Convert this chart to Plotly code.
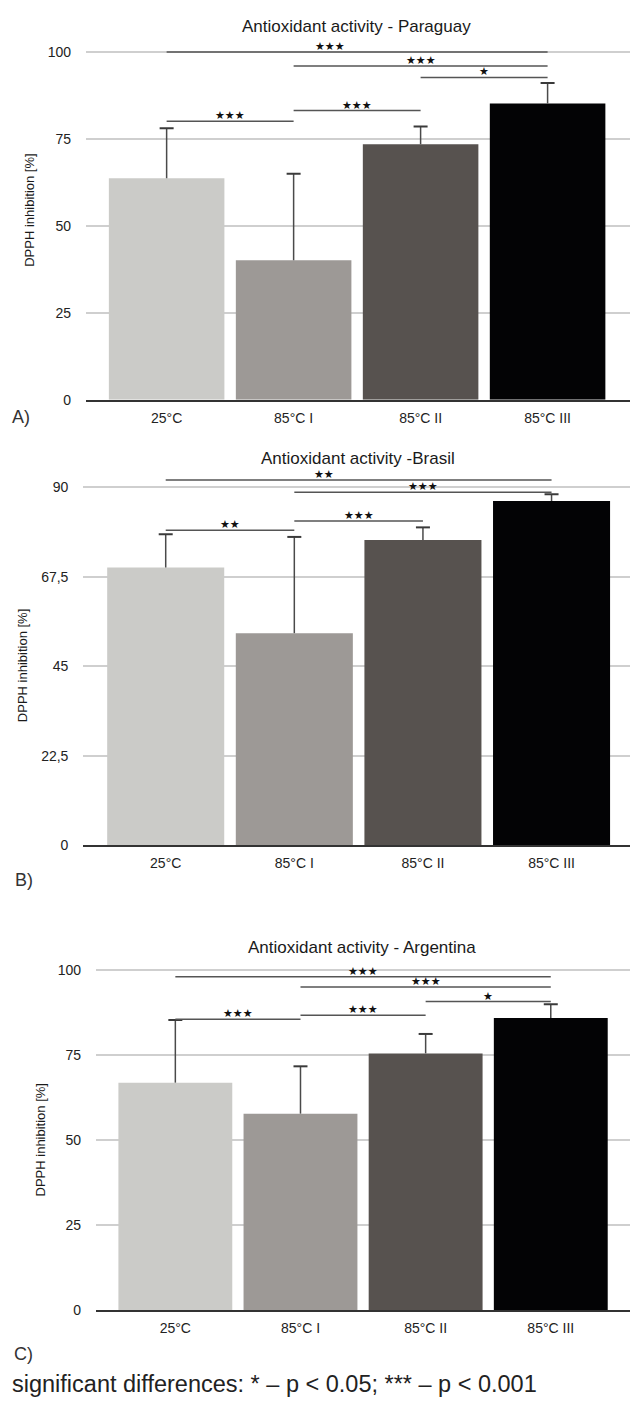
import plotly.graph_objects as go

# ---------------- data ----------------
categories = ["25°C", "85°C I", "85°C II", "85°C III"]

paraguay_mean = [63.6, 40.1, 73.4, 85.1]
paraguay_sd = [14.4, 24.8, 5.1, 5.9]
brasil_mean = [69.8, 53.3, 76.7, 86.5]
brasil_sd = [8.4, 24.2, 3.2, 1.7]
argentina_mean = [66.9, 57.8, 75.5, 85.9]
argentina_sd = [18.4, 13.9, 5.7, 4.0]

# significance brackets: (from bar, to bar, level, label)
paraguay_sig = [(0, 3, 99.9, "***"), (1, 3, 95.9, "***"), (2, 3, 92.6, "*"),
                (1, 2, 83.1, "***"), (0, 1, 80.0, "***")]
brasil_sig = [(0, 3, 91.8, "**"), (1, 3, 88.75, "***"), (1, 2, 81.5, "***"),
              (0, 1, 79.2, "**")]
argentina_sig = [(0, 3, 98.0, "***"), (1, 3, 95.0, "***"), (2, 3, 90.7, "*"),
                 (1, 2, 86.7, "***"), (0, 1, 85.5, "***")]

ticks_pct = [0, 25, 50, 75, 100]
ticks_pct_text = ["0", "25", "50", "75", "100"]
ticks_brasil = [0, 22.5, 45, 67.5, 90]
ticks_brasil_text = ["0", "22,5", "45", "67,5", "90"]

titles = ["Antioxidant activity - Paraguay", "Antioxidant activity -Brasil",
          "Antioxidant activity - Argentina"]
panel_labels = ["A)", "B)", "C)"]
y_title = "DPPH inhibition [%]"
footnote = "significant differences: * – p < 0.05; *** – p < 0.001"

# ---------------- styling / layout ----------------
W, H = 632, 1403
bar_colors = ["#cbcbc8", "#9d9996", "#57524f", "#030305"]
FONT = "Arial, Liberation Sans, Helvetica, sans-serif"

panels = [
    dict(mean=paraguay_mean, sd=paraguay_sd, sig=paraguay_sig, label_override={0: 1.29},
         left=86, right=630, y0=402, ppu=3.5, ymax=106, xr=[-0.635, 3.649],
         tv=ticks_pct, tt=ticks_pct_text, title=(356, 27), ytitle=(30, 212), plabel=(21, 419)),
    dict(mean=brasil_mean, sd=brasil_sd, sig=brasil_sig, label_override={0: 1.23},
         left=83.4, right=630, y0=850, ppu=4.0, ymax=96, xr=[-0.640, 3.610],
         tv=ticks_brasil, tt=ticks_brasil_text, title=(358, 461), ytitle=(22, 670), plabel=(24, 885)),
    dict(mean=argentina_mean, sd=argentina_sd, sig=argentina_sig, label_override={},
         left=96, right=630, y0=1318, ppu=3.425, ymax=104, xr=[-0.634, 3.633],
         tv=ticks_pct, tt=ticks_pct_text, title=(362, 953), ytitle=(40, 1147), plabel=(23, 1362)),
]


def px(x):
    return x / W


def py(y):
    return 1 - y / H


fig = go.Figure()
annotations = []
shapes = []
xs = list(range(len(categories)))

for k, p in enumerate(panels):
    n = "" if k == 0 else str(k + 1)
    xa, ya = "x" + n, "y" + n
    fig.add_trace(go.Bar(
        x=xs, y=p["mean"], width=0.91, marker=dict(color=bar_colors, line=dict(width=0)),
        xaxis=xa, yaxis=ya, showlegend=False, hoverinfo="skip"))
    # one-sided error bars: stems + caps
    sx, sy = [], []
    for i, (m, s) in enumerate(zip(p["mean"], p["sd"])):
        sx += [i, i, None]
        sy += [m, m + s, None]
    fig.add_trace(go.Scatter(x=sx, y=sy, mode="lines", line=dict(color="#4a4a4a", width=1.5),
                             xaxis=xa, yaxis=ya, showlegend=False, hoverinfo="skip"))
    fig.add_trace(go.Scatter(x=xs, y=[m + s for m, s in zip(p["mean"], p["sd"])], mode="markers",
                             marker=dict(symbol="line-ew", size=10, line=dict(color="#3a3a3a", width=2)),
                             xaxis=xa, yaxis=ya, showlegend=False, hoverinfo="skip"))
    # significance brackets
    for b, (i, j, lvl, lab) in enumerate(p["sig"]):
        shapes.append(dict(type="line", xref=xa, yref=ya, x0=i, x1=j, y0=lvl, y1=lvl,
                           line=dict(color="#555555", width=1.5)))
        lx = p["label_override"].get(b, (i + j) / 2)
        annotations.append(dict(xref=xa, yref=ya, x=lx, y=lvl, text=lab.replace("*", "★"),
                                showarrow=False, yanchor="bottom", yshift=-3,
                                font=dict(family="DejaVu Sans", size=11, color="#111111")))
    # axes
    fig.update_layout(**{
        "xaxis" + n: dict(domain=[px(p["left"]), px(p["right"])], range=p["xr"], anchor=ya,
                          tickvals=xs, ticktext=categories, showgrid=False, zeroline=False,
                          showline=True, linecolor="#333333", linewidth=2, ticks="",
                          ticklabelstandoff=4, fixedrange=True,
                          tickfont=dict(family=FONT, size=14, color="#222222")),
        "yaxis" + n: dict(domain=[py(p["y0"]), py(p["y0"] - p["ymax"] * p["ppu"])],
                          range=[0, p["ymax"]], anchor=xa, tickvals=p["tv"], ticktext=p["tt"],
                          showgrid=True, gridcolor="#cfcfcf", gridwidth=1.5, zeroline=False,
                          showline=False, ticks="", ticklabelstandoff=14, fixedrange=True,
                          tickfont=dict(family=FONT, size=14, color="#222222")),
    })
    annotations.append(dict(xref="paper", yref="paper", x=px(p["title"][0]), y=py(p["title"][1]),
                            text=titles[k], showarrow=False, xanchor="center", yanchor="middle",
                            font=dict(family=FONT, size=17, color="#1a1a1a")))
    annotations.append(dict(xref="paper", yref="paper", x=px(p["ytitle"][0]), y=py(p["ytitle"][1]),
                            text=y_title, textangle=-90, showarrow=False, xanchor="center",
                            yanchor="middle", font=dict(family=FONT, size=13, color="#1a1a1a")))
    annotations.append(dict(xref="paper", yref="paper", x=px(p["plabel"][0]), y=py(p["plabel"][1]),
                            text=panel_labels[k], showarrow=False, xanchor="center", yanchor="middle",
                            font=dict(family=FONT, size=18, color="#333333")))

annotations.append(dict(xref="paper", yref="paper", x=px(10), y=py(1392), text=footnote,
                        showarrow=False, xanchor="left", yanchor="middle",
                        font=dict(family=FONT, size=23.5, color="#222222")))

fig.update_layout(width=W, height=H, margin=dict(l=0, r=0, t=0, b=0),
                  paper_bgcolor="white", plot_bgcolor="white",
                  annotations=annotations, shapes=shapes, showlegend=False)

fig.write_html("out.html")
